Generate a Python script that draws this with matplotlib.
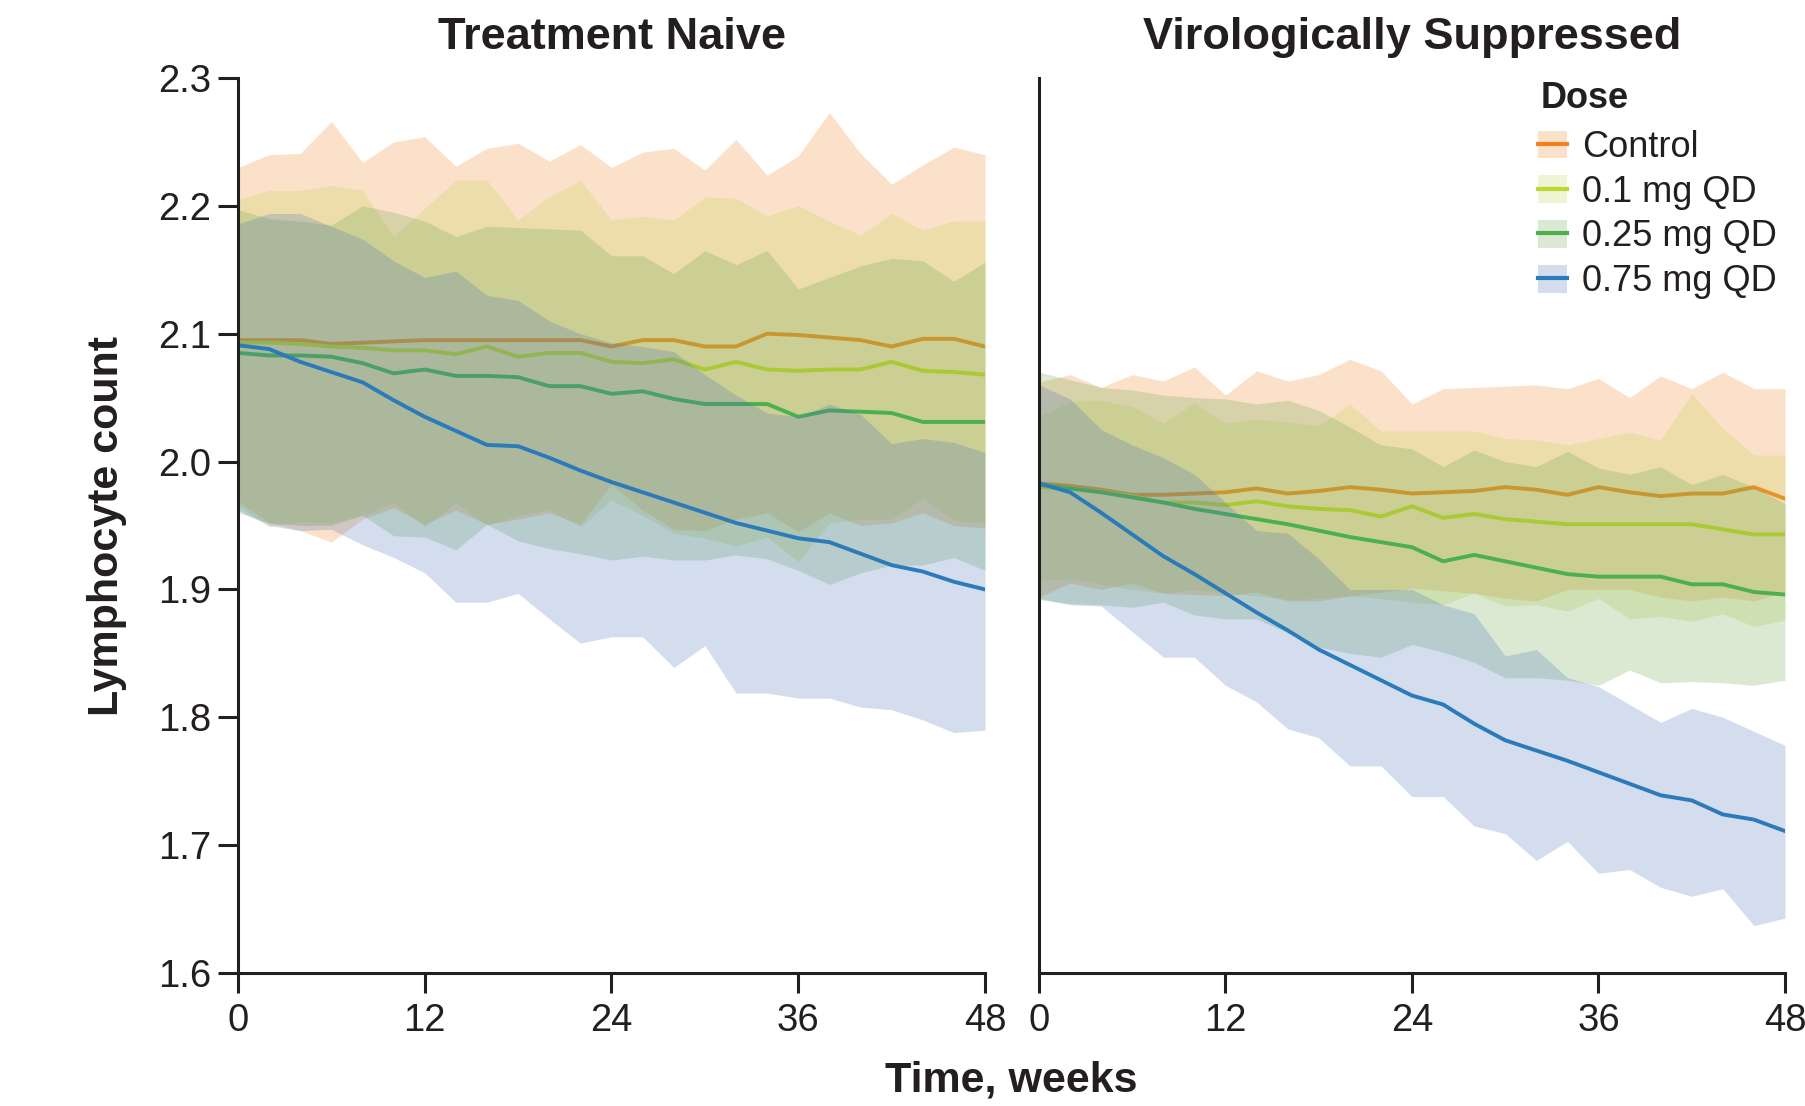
import numpy as np
import matplotlib.pyplot as plt
from matplotlib.patches import Patch
from matplotlib.lines import Line2D

plt.rcParams['font.family'] = ['Liberation Sans', 'DejaVu Sans']

weeks = [0, 2, 4, 6, 8, 10, 12, 14, 16, 18, 20, 22, 24, 26, 28, 30, 32, 34, 36, 38, 40, 42, 44, 46, 48]
doses = ['Control', '0.1 mg QD', '0.25 mg QD', '0.75 mg QD']
panels = ['Treatment Naive', 'Virologically Suppressed']

# Treatment naive: median and interval per dose
naive_ctrl = [2.095, 2.095, 2.095, 2.092, 2.093, 2.094, 2.095, 2.095, 2.095, 2.095, 2.095, 2.095, 2.090,
              2.095, 2.095, 2.090, 2.090, 2.100, 2.099, 2.097, 2.095, 2.090, 2.096, 2.096, 2.090]
naive_ctrl_lo = [1.969, 1.952, 1.946, 1.937, 1.955, 1.964, 1.951, 1.962, 1.951, 1.955, 1.960, 1.951, 1.982,
                 1.962, 1.947, 1.946, 1.955, 1.960, 1.945, 1.960, 1.950, 1.952, 1.960, 1.950, 1.948]
naive_ctrl_hi = [2.230, 2.240, 2.241, 2.266, 2.234, 2.250, 2.254, 2.231, 2.245, 2.249, 2.235, 2.248, 2.230,
                 2.242, 2.245, 2.228, 2.252, 2.224, 2.239, 2.273, 2.241, 2.217, 2.232, 2.246, 2.240]

naive_01 = [2.093, 2.093, 2.092, 2.090, 2.089, 2.087, 2.087, 2.084, 2.090, 2.082, 2.085, 2.085, 2.078,
            2.077, 2.080, 2.072, 2.078, 2.072, 2.071, 2.072, 2.072, 2.078, 2.071, 2.070, 2.068]
naive_01_lo = [1.966, 1.949, 1.953, 1.952, 1.958, 1.968, 1.949, 1.968, 1.950, 1.958, 1.962, 1.949, 1.970,
               1.958, 1.944, 1.940, 1.934, 1.941, 1.922, 1.952, 1.955, 1.955, 1.971, 1.954, 1.952]
naive_01_hi = [2.205, 2.212, 2.212, 2.216, 2.212, 2.176, 2.198, 2.220, 2.220, 2.189, 2.207, 2.220, 2.189,
               2.192, 2.189, 2.207, 2.206, 2.192, 2.200, 2.188, 2.177, 2.194, 2.181, 2.188, 2.188]

naive_025 = [2.085, 2.083, 2.083, 2.082, 2.077, 2.069, 2.072, 2.067, 2.067, 2.066, 2.059, 2.059, 2.053,
             2.055, 2.049, 2.045, 2.045, 2.045, 2.035, 2.040, 2.039, 2.038, 2.031, 2.031, 2.031]
naive_025_lo = [1.960, 1.952, 1.950, 1.950, 1.958, 1.942, 1.941, 1.931, 1.951, 1.938, 1.932, 1.928, 1.923,
                1.926, 1.923, 1.923, 1.927, 1.924, 1.915, 1.904, 1.913, 1.919, 1.919, 1.925, 1.915]
naive_025_hi = [2.197, 2.190, 2.188, 2.185, 2.200, 2.195, 2.188, 2.176, 2.184, 2.183, 2.182, 2.181, 2.161,
                2.161, 2.147, 2.165, 2.154, 2.165, 2.135, 2.144, 2.153, 2.159, 2.157, 2.141, 2.156]

naive_075 = [2.091, 2.088, 2.078, 2.070, 2.062, 2.048, 2.035, 2.024, 2.013, 2.012, 2.003, 1.993, 1.984,
             1.976, 1.968, 1.960, 1.952, 1.946, 1.940, 1.937, 1.928, 1.919, 1.914, 1.906, 1.900]
naive_075_lo = [1.962, 1.950, 1.946, 1.947, 1.935, 1.925, 1.913, 1.890, 1.890, 1.897, 1.877, 1.858, 1.863,
                1.863, 1.839, 1.856, 1.819, 1.819, 1.815, 1.815, 1.808, 1.806, 1.798, 1.788, 1.790]
naive_075_hi = [2.186, 2.194, 2.194, 2.184, 2.174, 2.157, 2.144, 2.149, 2.130, 2.126, 2.110, 2.100, 2.093,
                2.090, 2.086, 2.068, 2.052, 2.038, 2.035, 2.045, 2.037, 2.014, 2.018, 2.015, 2.007]

# Virologically suppressed
supp_ctrl = [1.983, 1.981, 1.978, 1.974, 1.974, 1.975, 1.976, 1.979, 1.975, 1.977, 1.980, 1.978, 1.975,
             1.976, 1.977, 1.980, 1.978, 1.974, 1.980, 1.976, 1.973, 1.975, 1.975, 1.980, 1.971]
supp_ctrl_lo = [1.894, 1.905, 1.900, 1.905, 1.897, 1.896, 1.895, 1.898, 1.891, 1.891, 1.895, 1.898, 1.901,
                1.899, 1.897, 1.893, 1.891, 1.900, 1.900, 1.900, 1.894, 1.891, 1.894, 1.891, 1.898]
supp_ctrl_hi = [2.062, 2.068, 2.058, 2.068, 2.063, 2.074, 2.052, 2.071, 2.063, 2.068, 2.080, 2.071, 2.045,
                2.057, 2.058, 2.059, 2.060, 2.057, 2.065, 2.050, 2.067, 2.057, 2.070, 2.057, 2.057]

supp_01 = [1.980, 1.979, 1.976, 1.973, 1.968, 1.968, 1.966, 1.969, 1.965, 1.963, 1.962, 1.957, 1.965,
           1.956, 1.959, 1.955, 1.953, 1.951, 1.951, 1.951, 1.951, 1.951, 1.947, 1.943, 1.943]
supp_01_lo = [1.908, 1.908, 1.904, 1.900, 1.897, 1.900, 1.897, 1.895, 1.892, 1.893, 1.895, 1.893, 1.890,
              1.888, 1.897, 1.887, 1.888, 1.883, 1.893, 1.877, 1.879, 1.875, 1.881, 1.871, 1.876]
supp_01_hi = [2.035, 2.047, 2.048, 2.043, 2.030, 2.046, 2.030, 2.033, 2.031, 2.028, 2.045, 2.024, 2.024,
              2.024, 2.024, 2.018, 2.017, 2.013, 2.018, 2.023, 2.017, 2.053, 2.026, 2.005, 2.005]

supp_025 = [1.982, 1.979, 1.976, 1.972, 1.968, 1.963, 1.959, 1.955, 1.951, 1.946, 1.941, 1.937, 1.933,
            1.922, 1.927, 1.922, 1.917, 1.912, 1.910, 1.910, 1.910, 1.904, 1.904, 1.898, 1.896]
supp_025_lo = [1.892, 1.889, 1.888, 1.886, 1.890, 1.880, 1.877, 1.877, 1.866, 1.855, 1.850, 1.847, 1.857,
               1.851, 1.843, 1.831, 1.831, 1.829, 1.825, 1.837, 1.827, 1.828, 1.827, 1.825, 1.829]
supp_025_hi = [2.070, 2.064, 2.058, 2.056, 2.052, 2.050, 2.049, 2.045, 2.048, 2.040, 2.027, 2.013, 2.010,
               1.996, 2.009, 2.000, 1.996, 2.008, 1.995, 1.990, 1.996, 1.982, 1.990, 1.980, 1.967]

supp_075 = [1.983, 1.976, 1.960, 1.943, 1.926, 1.912, 1.897, 1.882, 1.868, 1.853, 1.841, 1.829, 1.817,
            1.810, 1.795, 1.782, 1.774, 1.766, 1.757, 1.748, 1.739, 1.735, 1.724, 1.720, 1.711]
supp_075_lo = [1.893, 1.888, 1.887, 1.867, 1.847, 1.847, 1.825, 1.812, 1.791, 1.784, 1.762, 1.762, 1.738,
               1.738, 1.715, 1.709, 1.688, 1.703, 1.678, 1.681, 1.667, 1.660, 1.666, 1.637, 1.643]
supp_075_hi = [2.060, 2.049, 2.025, 2.013, 2.003, 1.990, 1.968, 1.946, 1.944, 1.924, 1.900, 1.900, 1.900,
               1.888, 1.881, 1.848, 1.853, 1.831, 1.824, 1.810, 1.796, 1.807, 1.800, 1.789, 1.778]

naive = [(naive_ctrl, naive_ctrl_lo, naive_ctrl_hi), (naive_01, naive_01_lo, naive_01_hi),
         (naive_025, naive_025_lo, naive_025_hi), (naive_075, naive_075_lo, naive_075_hi)]
supp = [(supp_ctrl, supp_ctrl_lo, supp_ctrl_hi), (supp_01, supp_01_lo, supp_01_hi),
        (supp_025, supp_025_lo, supp_025_hi), (supp_075, supp_075_lo, supp_075_hi)]

line_colors = ['#f28220', '#bfd730', '#4cb050', '#2b7bba']
band_colors = ['#f28220', '#c0d14c', '#69a348', '#4871b8']
band_alpha = 0.24
ink = '#231f20'

W, H = 1806, 1106
fig = plt.figure(figsize=(W / 100, H / 100), dpi=100)
ax1 = fig.add_axes([238 / W, 1 - 973 / H, 747 / W, 895 / H])
ax2 = fig.add_axes([1039 / W, 1 - 973 / H, 746 / W, 895 / H])

for ax, title, data in [(ax1, panels[0], naive), (ax2, panels[1], supp)]:
    # each band goes over the previous dose's line, like the original
    for i, ((mid, lo, hi), lc, bc) in enumerate(zip(data, line_colors, band_colors)):
        ax.fill_between(weeks, lo, hi, color=bc, alpha=band_alpha, linewidth=0, zorder=2 * i + 1)
        ax.plot(weeks, mid, color=lc, linewidth=2.8, zorder=2 * i + 2)
    ax.set_xlim(0, 48)
    ax.set_ylim(1.6, 2.3)
    ax.set_xticks([0, 12, 24, 36, 48])
    ax.set_yticks(np.arange(1.6, 2.31, 0.1))
    ax.set_yticklabels(['%.1f' % v for v in np.arange(1.6, 2.31, 0.1)])
    ax.spines['top'].set_visible(False)
    ax.spines['right'].set_visible(False)
    for s in ['left', 'bottom']:
        ax.spines[s].set_linewidth(2.2)
        ax.spines[s].set_color(ink)
        ax.spines[s].set_zorder(20)
    ax.tick_params(direction='out', length=14.4, width=2.2, color=ink, labelcolor=ink, labelsize=27.5)
    ax.tick_params(axis='x', pad=7)
    ax.tick_params(axis='y', pad=5)
    ax.set_title(title, fontsize=32.5, fontweight='bold', color=ink, pad=21)

ax2.tick_params(axis='y', left=False, labelleft=False)
ax1.set_ylabel('Lymphocyte count', fontsize=31, fontweight='bold', color=ink, labelpad=22)
fig.text(1011.5 / W, 1 - 1092 / H, 'Time, weeks', fontsize=31, fontweight='bold', color=ink,
         ha='center', va='baseline')

# legend: title as separate text so the gap under it can match
fig.text(1541 / W, 1 - 108 / H, 'Dose', fontsize=26, fontweight='bold', color=ink, ha='left', va='baseline')
handles = [(Patch(facecolor=bc, alpha=band_alpha, edgecolor='none'), Line2D([], [], color=lc, linewidth=3))
           for lc, bc in zip(line_colors, band_colors)]
leg = fig.legend(handles, doses, loc='upper left', bbox_to_anchor=(1538 / W, 1 - 130 / H),
                 frameon=False, fontsize=26, handlelength=0.8, handleheight=0.8, handletextpad=0.42,
                 labelspacing=0.27, borderpad=0, borderaxespad=0)
for t in leg.get_texts():
    t.set_color(ink)

fig.savefig('out.png', dpi=100)
